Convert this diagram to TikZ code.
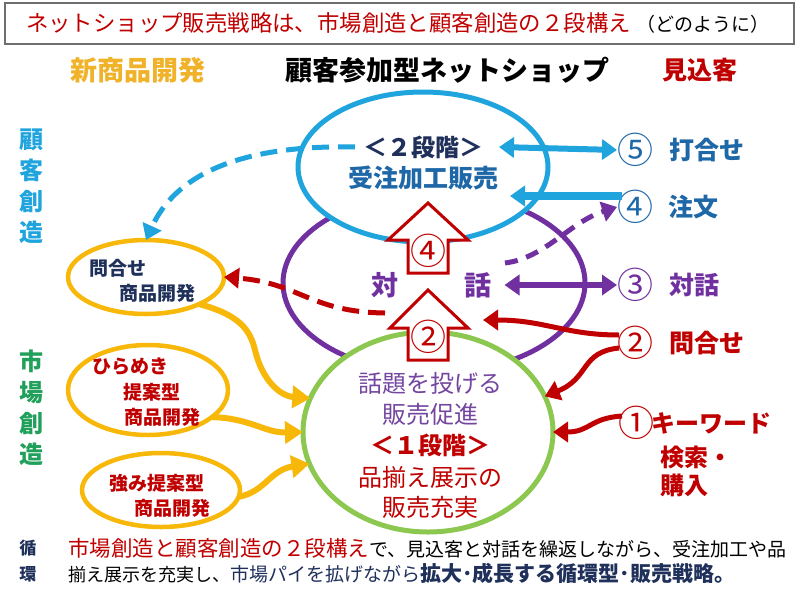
\documentclass[tikz,border=0pt]{standalone}
\usepackage{fontspec}
\setmainfont{Noto Sans CJK JP}
\usetikzlibrary{shapes.geometric,arrows.meta}
\definecolor{cblue}{RGB}{32,164,222}
\definecolor{cdblue}{RGB}{31,104,168}
\definecolor{cnavy}{RGB}{31,48,90}
\definecolor{cpurple}{RGB}{112,48,160}
\definecolor{cpurtxt}{RGB}{116,70,160}
\definecolor{cred}{RGB}{192,0,0}
\definecolor{cgold}{RGB}{247,184,10}
\definecolor{cgoldtxt}{RGB}{240,178,40}
\definecolor{cgreen}{RGB}{140,200,80}
\definecolor{cgreentxt}{RGB}{32,160,90}
\definecolor{cgray}{RGB}{110,110,110}
\newcommand{\myfs}[1]{\fontsize{#1}{#1}\selectfont}
\newcommand{\myfsl}[2]{\fontsize{#1}{#2}\selectfont}
\begin{document}
\begin{tikzpicture}[x=1pt,y=-1pt,
  every node/.style={inner sep=0pt,outer sep=0pt},
  ell/.style={ellipse,draw,line width=5pt,fill=white,inner sep=0pt},
  yell/.style={ellipse,draw=cgold,line width=4.5pt,fill=white,inner sep=0pt},
  blockarr/.style={draw=cred,line width=3pt,fill=white,line join=miter},
  tipT/.style={-{Triangle[length=15pt,width=20pt]}},
  tipTT/.style={{Triangle[length=15pt,width=20pt]}-{Triangle[length=15pt,width=20pt]}},
  tipY/.style={-{Triangle[length=18pt,width=22pt]}},
  dashA/.style={dash pattern=on 17pt off 9pt}]
\useasboundingbox (0,0) rectangle (800,600);
\fill[white] (0,0) rectangle (800,600);

% title
\node[draw=cgray,line width=1.2pt,minimum width=789pt,minimum height=41pt] (tbox) at (399.5,23.5) {};
\node[anchor=base west,text=cred,font=\myfs{22.4}] (ttl) at (26,31) {ネットショップ販売戦略は、市場創造と顧客創造の２段構え};
\node[anchor=base west,font=\myfs{19}] (ttl2) at ([xshift=6pt]ttl.base east) {（どのように）};

% headings
\node[text=cgoldtxt,font={\myfs{27}\bfseries}] (h1) at (138,70) {新商品開発};
\node[font={\myfs{27}\bfseries}] (h2) at (447,70) {顧客参加型ネットショップ};
\node[text=cred,font={\myfs{25}\bfseries}] (h3) at (700,70) {見込客};

% side labels
\node[text=cblue,font={\myfsl{24}{31}\bfseries},align=center] (v1) at (31,186) {顧\\客\\創\\造};
\node[text=cgreentxt,font={\myfsl{24}{31}\bfseries},align=center] (v2) at (31,408) {市\\場\\創\\造};
\node[text=cnavy,font={\myfsl{17}{26}\bfseries},align=center] (v3) at (28,561) {循\\環};

% big ellipses
\node[ell,draw=cpurple,minimum width=302pt,minimum height=180pt] (purple) at (434,283) {};
\node[ell,draw=cgreen,minimum width=250pt,minimum height=200pt] (green) at (428,432) {};
\node[ell,draw=cblue,minimum width=250pt,minimum height=150pt] (blue) at (423,167) {};

% yellow ellipses
\node[yell,minimum width=156pt,minimum height=74pt] (y1) at (146,277) {};
\node[yell,minimum width=160pt,minimum height=90pt] (y2) at (148,390) {};
\node[yell,minimum width=158pt,minimum height=74pt] (y3) at (161,490) {};

% block arrows
\draw[blockarr] (408,273) -- (408,240) -- (388,240) -- (428,203) -- (468,240) -- (448,240) -- (448,273) -- cycle;
\draw[blockarr] (408,360) -- (408,328) -- (390,328) -- (428,290) -- (468,328) -- (448,328) -- (448,360) -- cycle;
\node[text=cred,font=\myfs{36}] (a4) at (428,251) {④};
\node[text=cred,font=\myfs{36}] (a2) at (428,337) {②};

% texts in ellipses
\node[text=cnavy,font={\myfs{24}\bfseries}] (s2) at (423,147) {＜２段階＞};
\node[text=cdblue,font={\myfs{25}\bfseries}] (s2b) at (423,178) {受注加工販売};
\node[text=cpurple,font={\myfs{27}\bfseries}] (dtai) at (385,285) {対};
\node[text=cpurple,font={\myfs{27}\bfseries}] (dwa) at (478,285) {話};
\node[text=cpurtxt,font={\myfs{24}}] (g1) at (430,383) {話題を投げる};
\node[text=cpurtxt,font={\myfs{24}}] (g2) at (430,414) {販売促進};
\node[text=cred,font={\myfs{24}\bfseries}] (g3) at (430,445) {＜１段階＞};
\node[text=cred,font={\myfs{24}}] (g4) at (430,477) {品揃え展示の};
\node[text=cred,font={\myfs{24}}] (g5) at (430,507) {販売充実};

\node[text=cnavy,font={\myfs{19}\bfseries}] (y1a) at (118,268) {問合せ};
\node[text=cnavy,font={\myfs{19}\bfseries}] (y1b) at (157,293) {商品開発};
\node[text=cred,font={\myfs{19}\bfseries}] (y2a) at (130,367) {ひらめき};
\node[text=cred,font={\myfs{19}\bfseries}] (y2b) at (152,392) {提案型};
\node[text=cred,font={\myfs{19}\bfseries}] (y2c) at (162,417) {商品開発};
\node[text=cred,font={\myfs{19}\bfseries}] (y3a) at (157,483) {強み提案型};
\node[text=cred,font={\myfs{19}\bfseries}] (y3b) at (172,508) {商品開発};

% right labels
\node[text=cdblue,font=\myfs{36}] (n5) at (635,150) {⑤};
\node[text=cdblue,font={\myfs{25}\bfseries}] (l5) at (707,150) {打合せ};
\node[text=cdblue,font=\myfs{36}] (n4) at (635,207) {④};
\node[text=cdblue,font={\myfs{25}\bfseries}] (l4) at (693,207) {注文};
\node[text=cpurple,font=\myfs{36}] (n3) at (635,285) {③};
\node[text=cpurple,font={\myfs{25}\bfseries}] (l3) at (694,285) {対話};
\node[text=cred,font=\myfs{36}] (n2) at (635,343) {②};
\node[text=cred,font={\myfs{25}\bfseries}] (l2) at (707,343) {問合せ};
\node[text=cred,font=\myfs{36}] (n1) at (636,423) {①};
\node[text=cred,font={\myfs{24}\bfseries}] (l1) at (711,423) {キーワード};
\node[anchor=west,text=cred,font={\myfs{24}\bfseries}] (l1b) at (660,457) {検索・};
\node[anchor=west,text=cred,font={\myfs{24}\bfseries}] (l1c) at (660,485) {購入};

% connectors
\coordinate (bdS) at (355,147);
\draw[cblue,line width=5pt,dashA,tipT] (bdS) .. controls (260,145) and (180,165) .. (y1.north);
\coordinate (rdS) at (385,313);
\draw[cred,line width=5pt,dashA,tipT] (rdS) .. controls (310,312) and (300,283) .. (y1.east);
\coordinate (pdS) at (505,263);
\draw[cpurple,line width=5pt,dash pattern=on 13pt off 9pt,tipT] (pdS) .. controls (545,258) and (570,222) .. (n4.west);
\draw[cblue,line width=6pt,tipTT] ([xshift=16pt]s2.east) -- (n5.west);
\coordinate (bsT) at (510,196);
\draw[cblue,line width=8pt,tipT] ([xshift=5pt,yshift=11pt]n4.west) -- (bsT);
\draw[cpurple,line width=6pt,tipTT] ([xshift=13pt]dwa.east) -- (n3.west);
\coordinate (rsT) at (483,320);
\draw[cred,line width=5pt,tipT] ([xshift=2pt,yshift=8pt]n2.west) .. controls (565,335) and (545,320) .. (rsT);
\draw[cred,line width=5pt,tipT] ([xshift=2pt,yshift=-5pt]n2.west) .. controls (580,352) and (590,378) .. (green.17);
\draw[cred,line width=5pt,tipT] ([xshift=4pt,yshift=7pt]n1.west) .. controls (590,418) and (590,432) .. (green.east);

\draw[cgold,line width=6pt,tipY] (y1.-27) .. controls (240,315) and (250,330) .. (255,350) .. controls (262,380) and (280,396) .. (green.164);
\draw[cgold,line width=6pt,tipY] (y2.-23) .. controls (250,418) and (265,433) .. (green.west);
\draw[cgold,line width=6pt,tipY] (y3.-5) .. controls (265,492) and (270,470) .. (green.195);

% bottom text
\node[anchor=base west,text=cred,font=\myfs{21.5}] (b1) at (68,556) {市場創造と顧客創造の２段構え};
\node[anchor=base west,font=\myfs{19}] (b2) at (b1.base east) {で、見込客と対話を繰返しながら、受注加工や品};
\node[anchor=base west,font=\myfs{18}] (b3) at (68,581) {揃え展示を充実し、};
\node[anchor=base west,text=cnavy,font=\myfs{19}] (b4) at (b3.base east) {市場パイを拡げながら};
\node[anchor=base west,text=cnavy,font={\myfs{21}\bfseries}] (b5) at (b4.base east) {拡大･成長する循環型･販売戦略。};
\end{tikzpicture}
\end{document}
